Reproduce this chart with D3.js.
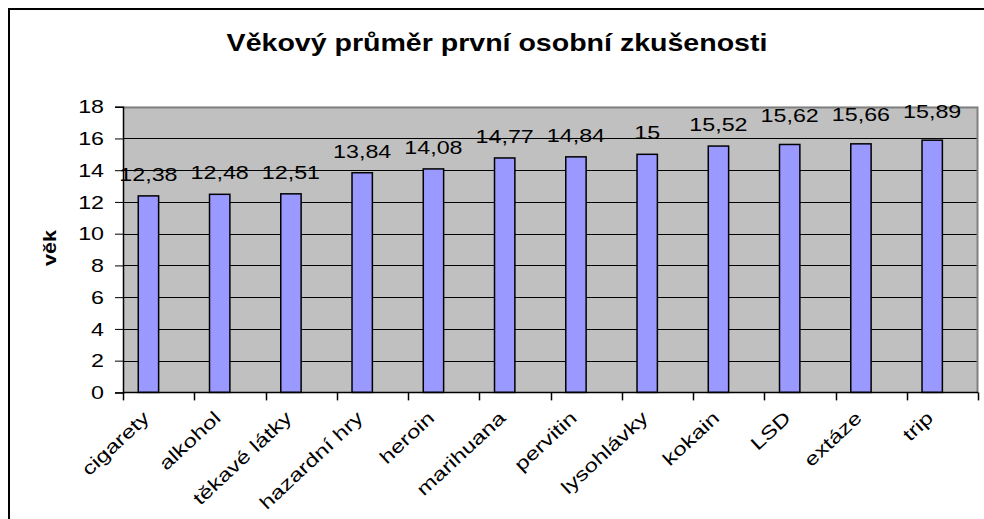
<!DOCTYPE html>
<html>
<head>
<meta charset="utf-8">
<script src="https://cdn.jsdelivr.net/npm/d3@7"></script>
<style>
    html, body { margin: 0; padding: 0; background: #fff; overflow: hidden; }
    text { font-family: "Liberation Sans", Arial, sans-serif; fill: #000; }
</style>
</head>
<body>
<div id="chart"></div>
<script>
// Chart data
const categories = ["cigarety", "alkohol", "těkavé látky", "hazardní hry", "heroin", "marihuana",
    "pervitin", "lysohlávky", "kokain", "LSD", "extáze", "trip"];
const values = [12.38, 12.48, 12.51, 13.84, 14.08, 14.77, 14.84, 15, 15.52, 15.62, 15.66, 15.89];
const seriesNames = ["věk", ""];   // second series is empty, it only takes room in each group
const yTicks = [0, 2, 4, 6, 8, 10, 12, 14, 16, 18];
const chartTitle = "Věkový průměr první osobní zkušenosti";
const yTitle = "věk";

// Layout
const WIDTH = 984, HEIGHT = 519;
const plot = { left: 123, right: 978, top: 106.7, bottom: 392.4 };
const STRETCH = 1.33;      // text in the reference is drawn wide
const FONT = 17.5;
const LABEL_LIFT_FROM = 15.6;

const svg = d3.select("#chart").append("svg")
    .attr("width", WIDTH)
    .attr("height", HEIGHT);

// Outer frame
svg.append("rect")
    .attr("x", 9).attr("y", 9)
    .attr("width", WIDTH + 20).attr("height", HEIGHT + 20)
    .attr("fill", "#fff")
    .attr("stroke", "#000")
    .attr("stroke-width", 2);

// Scales
const x = d3.scaleBand()
    .domain(categories)
    .range([plot.left, plot.right])
    .padding(0);

const xSeries = d3.scaleBand()
    .domain(seriesNames)
    .range([0, x.bandwidth()])
    .paddingInner(0)
    .paddingOuter(0.75);

const y = d3.scaleLinear()
    .domain([0, 18])
    .range([plot.bottom, plot.top]);

// Plot background
svg.append("rect")
    .attr("x", plot.left).attr("y", plot.top)
    .attr("width", plot.right - plot.left)
    .attr("height", plot.bottom - plot.top)
    .attr("fill", "#c0c0c0");

// Grid lines
svg.append("g")
    .selectAll("line")
    .data(yTicks.filter(t => t > 0 && t < 18))
    .join("line")
    .attr("x1", plot.left).attr("x2", plot.right)
    .attr("y1", d => Math.round(y(d)) + 0.5)
    .attr("y2", d => Math.round(y(d)) + 0.5)
    .attr("stroke", "#000");

// Top and right border of plot area
svg.append("path")
    .attr("d", `M${plot.left},${Math.round(plot.top) + 0.5}H${plot.right - 0.5}V${plot.bottom}`)
    .attr("fill", "none")
    .attr("stroke", "#808080")
    .attr("stroke-width", 2);

// Bars
svg.append("g")
    .selectAll("rect")
    .data(values)
    .join("rect")
    .attr("x", (d, i) => x(categories[i]) + xSeries(seriesNames[0]))
    .attr("y", d => y(d))
    .attr("width", xSeries.bandwidth())
    .attr("height", d => y(0) - y(d))
    .attr("fill", "#9999ff")
    .attr("stroke", "#000")
    .attr("stroke-width", 1.5);

// Y axis
const yAxis = svg.append("g")
    .attr("transform", `translate(${plot.left},0)`)
    .call(d3.axisLeft(y).tickValues(yTicks).tickSize(8).tickPadding(11).tickFormat(d3.format("d")));
yAxis.select(".domain").attr("stroke", "#000").attr("stroke-width", 1.5);
yAxis.selectAll(".tick line").attr("stroke", "#000");
yAxis.selectAll(".tick text")
    .attr("font-size", FONT)
    .attr("font-family", null)
    .attr("dy", "0.35em")
    .attr("transform", `scale(${STRETCH},1)`)
    .attr("x", -19 / STRETCH);

// X axis (ticks at category boundaries)
const boundaries = categories.map(c => x(c)).concat([plot.right]);
svg.append("line")
    .attr("x1", plot.left).attr("x2", plot.right)
    .attr("y1", plot.bottom).attr("y2", plot.bottom)
    .attr("stroke", "#000").attr("stroke-width", 1.5);
svg.append("g")
    .selectAll("line")
    .data(boundaries)
    .join("line")
    .attr("x1", d => Math.round(d) + 0.5).attr("x2", d => Math.round(d) + 0.5)
    .attr("y1", plot.bottom).attr("y2", plot.bottom + 8)
    .attr("stroke", "#000").attr("stroke-width", 1.5);

// Category labels
svg.append("g")
    .selectAll("text")
    .data(categories)
    .join("text")
    .attr("transform", d => `translate(${x(d) + x.bandwidth() / 2 - 8},${plot.bottom + 27}) rotate(-43) scale(1.3,1)`)
    .attr("text-anchor", "end")
    .attr("font-size", 18.5)
    .text(d => d);

// Value labels
svg.append("g")
    .selectAll("text")
    .data(values)
    .join("text")
    .attr("transform", (d, i) => {
        const cx = x(categories[i]) + xSeries(seriesNames[0]) + xSeries.bandwidth() / 2;
        const lift = d > LABEL_LIFT_FROM ? 7.5 : 0;
        return `translate(${cx},${y(d) - 15 - lift}) scale(${STRETCH},1)`;
    })
    .attr("text-anchor", "middle")
    .attr("font-size", FONT)
    .text(d => String(d).replace(".", ","));

// Title
svg.append("text")
    .attr("transform", `translate(497,51) scale(1.19,1)`)
    .attr("text-anchor", "middle")
    .attr("font-size", 24)
    .attr("font-weight", "bold")
    .text(chartTitle);

// Y axis title
svg.append("text")
    .attr("transform", `translate(56,248) rotate(-90) scale(1.2,1)`)
    .attr("text-anchor", "middle")
    .attr("font-size", 18)
    .attr("font-weight", "bold")
    .text(yTitle);
</script>
</body>
</html>
